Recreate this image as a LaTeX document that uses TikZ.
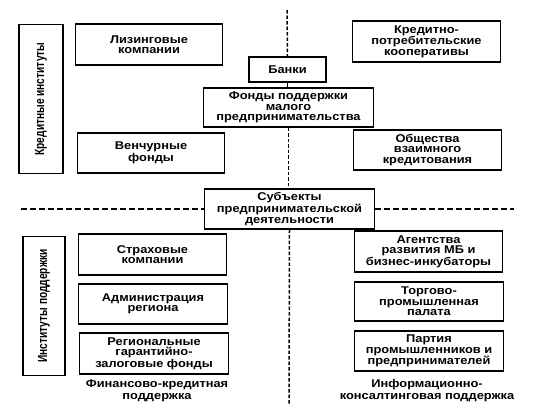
\documentclass[tikz,border=0pt]{standalone}
\usepackage{fontspec}
\newfontfamily\dfont[FakeStretch=1.14]{Liberation Sans}
\newfontfamily\sfont{Liberation Sans}
\usetikzlibrary{positioning}

\tikzset{
  box/.style={draw, line width=1.4bp, align=center, inner sep=0pt,
    font=\dfont\bfseries\fontsize{11.3}{10.4}\selectfont},
  sidebox/.style={draw, line width=1.4bp, inner sep=0pt, rotate=90,
    font=\sfont\bfseries\fontsize{10.2}{11}\selectfont},
  caption/.style={align=center, inner sep=0pt,
    font=\dfont\bfseries\fontsize{11.3}{12}\selectfont},
  vdash/.style={line width=1.5bp, dash pattern=on 3.5bp off 2bp},
  hdash/.style={line width=1.5bp, dash pattern=on 6bp off 3bp}
}

\begin{document}
\begin{tikzpicture}[x=1bp, y=-1bp]

		\useasboundingbox (0,0) rectangle (534,407);

		% Side labels
		\node[sidebox, minimum width=150, minimum height=44] (kredinst) at (41,99) {\scalebox{1}[1.3]{Кредитные институты}};
		\node[sidebox, minimum width=140, minimum height=42] (instpodd) at (44,306) {\scalebox{1}[1.3]{Институты поддержки}};

		% Centre column
		\node[box, minimum width=77, minimum height=25] (banki) at (287.5,69.5) {Банки};
		\node[box, minimum width=171, minimum height=39] (fondy) at (288.5,107.5) {Фонды поддержки\\малого\\предпринимательства};
		\node[box, minimum width=171, minimum height=40] (subj) at (289.5,209) {Субъекты\\предпринимательской\\деятельности};

		% Credit institutions, left
		\node[box, minimum width=148, minimum height=41] (lizing) at (149,44.5) {Лизинговые\\компании};
		\node[box, minimum width=148, minimum height=40] (vench) at (151,153) {Венчурные\\фонды};

		% Credit institutions, right
		\node[box, minimum width=149, minimum height=41] (kpk) at (426.5,41.5) {Кредитно-\\потребительские\\кооперативы};
		\node[box, minimum width=149, minimum height=40] (ovk) at (427.5,150) {Общества\\взаимного\\кредитования};

		% Support institutions, left
		\node[box, minimum width=149, minimum height=41] (strah) at (152.5,254.5) {Страховые\\компании};
		\node[box, minimum width=150, minimum height=40] (admin) at (153,304) {Администрация\\региона};
		\node[box, minimum width=150, minimum height=41] (region) at (154,353.5) {Региональные\\гарантийно-\\залоговые фонды};
		\node[caption] (fin) at (157,391) {Финансово-кредитная\\поддержка};

		% Support institutions, right
		\node[box, minimum width=149, minimum height=41] (agent) at (428.5,251.5) {Агентства\\развития МБ и\\бизнес-инкубаторы};
		\node[box, minimum width=150, minimum height=39] (torg) at (429,301.5) {Торгово-\\промышленная\\палата};
		\node[box, minimum width=150, minimum height=40] (partiya) at (429,351) {Партия\\промышленников и\\предпринимателей};
		\node[caption] (info) at (427,391) {Информационно-\\консалтинговая поддержка};

		% Vertical divider
		\coordinate (vtop) at (287,10);
		\coordinate (vbot) at (289,404);
		\draw[vdash] (vtop) -- (banki.north);
		\draw[line width=1.4bp] (banki.south) -- (banki.south |- fondy.north);
		\draw[vdash] (fondy.south) -- (fondy.south |- subj.north);
		\draw[vdash] (subj.south) -- (vbot);

		% Horizontal divider
		\coordinate (hleft) at (21,209);
		\coordinate (hright) at (514,209);
		\draw[hdash] (hleft) -- (subj.west);
		\draw[hdash] (subj.east) -- (hright);

	\end{tikzpicture}
\end{document}
